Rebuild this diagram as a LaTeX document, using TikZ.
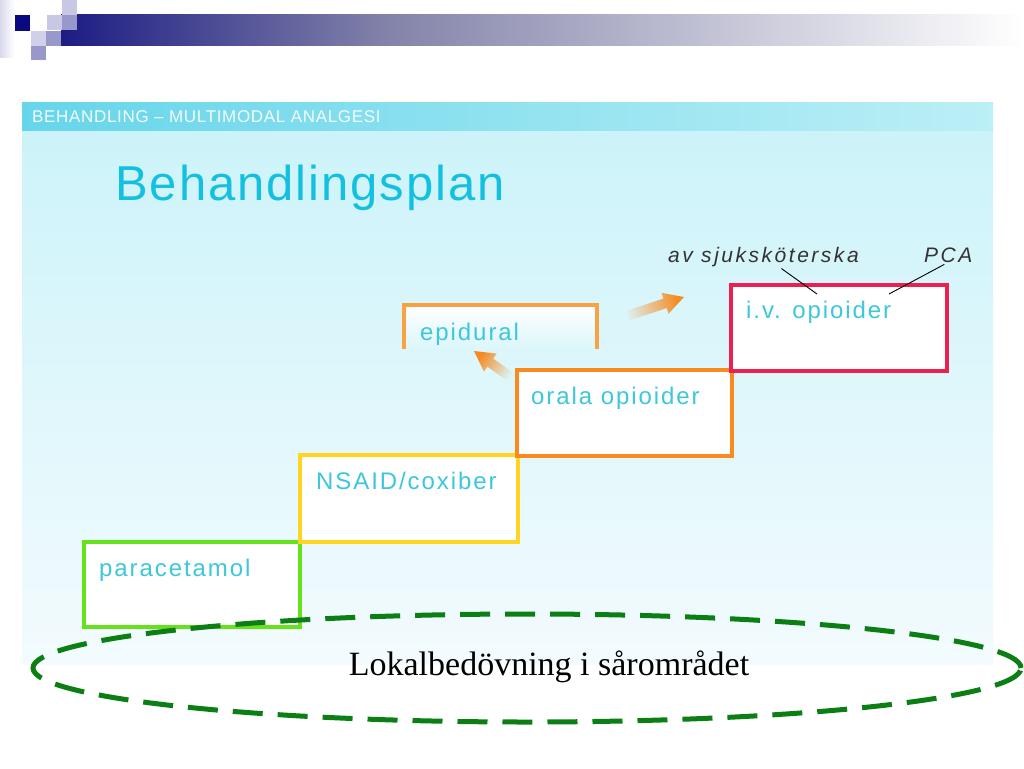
\documentclass[tikz,border=0pt]{standalone}
\usepackage{fontspec}
\setmainfont{Liberation Serif}
\newfontfamily\lblfont[LetterSpace=8]{Liberation Sans}
\newfontfamily\titlefont[LetterSpace=4]{Liberation Sans}
\newfontfamily\hdrfont[LetterSpace=4]{Liberation Sans}
\newfontfamily\notefont[LetterSpace=12]{Liberation Sans}
\usetikzlibrary{calc,shapes.geometric}

\definecolor{bandL}{HTML}{66D5EA}
\definecolor{bandR}{HTML}{BCEFF6}
\definecolor{panelT}{HTML}{CCF3F9}
\definecolor{panelB}{HTML}{F3FBFE}
\definecolor{panelM}{HTML}{DBF6FB}
\definecolor{titleC}{HTML}{14C0DF}
\definecolor{lblC}{HTML}{3CC7DC}
\definecolor{greenB}{HTML}{66E21A}
\definecolor{yellowB}{HTML}{FFD522}
\definecolor{orangeB}{HTML}{FA8A1E}
\definecolor{epiB}{HTML}{F8A244}
\definecolor{redB}{HTML}{EC2050}
\definecolor{ellC}{HTML}{0C7F14}
\definecolor{navyC}{HTML}{0A0A80}
\definecolor{barL}{HTML}{1C1C84}
\definecolor{barM}{HTML}{8484AA}
\definecolor{lavL}{HTML}{C8C8E4}
\definecolor{lavM}{HTML}{9898CA}
\definecolor{arrC}{HTML}{F58A20}
\definecolor{noteC}{HTML}{333333}

\begin{document}
\begin{tikzpicture}[x=1pt,y=-1pt,
  stepbox/.style={rectangle, draw, line width=4pt, fill=white, inner sep=0pt, outer sep=0pt, anchor=north west},
  lbl/.style={anchor=base west, inner sep=0pt, text=lblC, font=\lblfont\fontsize{24}{27}\selectfont},
  note/.style={anchor=base west, inner sep=0pt, text=noteC, font=\notefont\itshape\fontsize{21}{24}\selectfont},
  leader/.style={draw=black, line width=0.9pt},
  arrowfill/.style={top color=arrC, bottom color=panelM}
]
\useasboundingbox (0,0) rectangle (1024,768);
\fill[white] (0,0) rectangle (1024,768);

% logo and top bar
\shade[left color=lavL!70!white, right color=white] (0,0) rectangle (14,58);
\shade[left color=barL, right color=barM] (61,15) rectangle (392,46);
\shade[left color=barM, right color=white] (391.5,15) rectangle (1024,46);
\fill[lavL] (62,0) rectangle (77,15);
\fill[navyC] (15,15) rectangle (30,31);
\fill[lavL] (47,15) rectangle (62,30);
\fill[lavM] (62,15) rectangle (77,30);
\fill[lavL!85!white] (31,31) rectangle (46,46);
\fill[lavM] (46,31) rectangle (61,46);
\fill[lavM] (31,46) rectangle (46,60);

% panel
\shade[left color=bandL, right color=bandR] (22,102) rectangle (993,131);
\shade[top color=panelT, bottom color=panelB] (22,131) rectangle (993,664);

\node[anchor=base west, inner sep=0pt, text=white!92!bandL, font=\hdrfont\fontsize{17}{19}\selectfont] (hdr) at (32,122) {BEHANDLING – MULTIMODAL ANALGESI};
\node[anchor=base west, inner sep=0pt, text=titleC, font=\titlefont\fontsize{49}{52}\selectfont] (title) at (115,200) {Behandlingsplan};

% steps
\node[stepbox, draw=greenB, minimum width=216pt, minimum height=85pt] (para) at (84,542) {};
\node[stepbox, draw=yellowB, minimum width=218pt, minimum height=87pt] (nsaid) at (300,455) {};
\node[stepbox, draw=orangeB, minimum width=215pt, minimum height=86pt] (orala) at (517,370) {};
\node[stepbox, draw=redB, line width=3.5pt, minimum width=216pt, minimum height=86pt] (iv) at (731,285) {};

% epidural (open at bottom)
\node[rectangle, inner sep=0pt, outer sep=0pt, anchor=north west, minimum width=193pt, minimum height=44pt, top color=white, bottom color=panelM] (epi) at (404,305) {};
\draw[draw=epiB, line width=3.5pt] (epi.south west) -- (epi.north west) -- (epi.north east) -- (epi.south east);

\node[lbl] (paraT) at ($(para.north west)+(15,34)$) {paracetamol};
\node[lbl] (nsaidT) at ($(nsaid.north west)+(16,34)$) {NSAID/coxiber};
\node[lbl] (oralaT) at ($(orala.north west)+(14,34)$) {orala opioider};
\node[lbl] (ivT) at ($(iv.north west)+(15,33)$) {i.v. opioider};
\node[lbl] (epiT) at ($(epi.north west)+(16,35)$) {epidural};

% notes
\node[note] (avs) at (668,262) {av sjuksköterska};
\node[note] (pca) at (924,262) {PCA};
\coordinate (avp) at (817,294);
\coordinate (pcap) at (889,294);
\draw[leader] ([xshift=18pt,yshift=-2pt]avs.south) -- (avp);
\draw[leader] ([xshift=-4pt,yshift=-2pt]pca.south) -- (pcap);

% arrows
\coordinate (a1t) at (512,378);
\coordinate (a1h) at (474,351);
\coordinate (a1n) at ($(a1h)!20pt!(a1t)$);
\coordinate (a2t) at (621,318);
\coordinate (a2h) at (684,297);
\coordinate (a2n) at ($(a2h)!20pt!(a2t)$);
\shade[arrowfill, shading angle=54.6]
  ($(a1t)!5pt!90:(a1h)$) -- ($(a1n)!5pt!90:(a1h)$) -- ($(a1n)!11pt!90:(a1h)$) -- (a1h)
  -- ($(a1n)!11pt!-90:(a1h)$) -- ($(a1n)!5pt!-90:(a1h)$) -- ($(a1t)!5pt!-90:(a1h)$) -- cycle;
\shade[arrowfill, shading angle=-71.6]
  ($(a2t)!5pt!90:(a2h)$) -- ($(a2n)!5pt!90:(a2h)$) -- ($(a2n)!11pt!90:(a2h)$) -- (a2h)
  -- ($(a2n)!11pt!-90:(a2h)$) -- ($(a2n)!5pt!-90:(a2h)$) -- ($(a2t)!5pt!-90:(a2h)$) -- cycle;

% local anaesthesia ellipse
\node[ellipse, draw=ellC, line width=5pt, dash pattern=on 30pt off 15pt, minimum width=988pt, minimum height=108pt, inner sep=0pt] (ell) at (527,668) {};
\node[anchor=base, inner sep=0pt, font=\fontsize{34}{38}\selectfont] (lok) at (549,675) {Lokalbedövning i sårområdet};
\end{tikzpicture}
\end{document}
